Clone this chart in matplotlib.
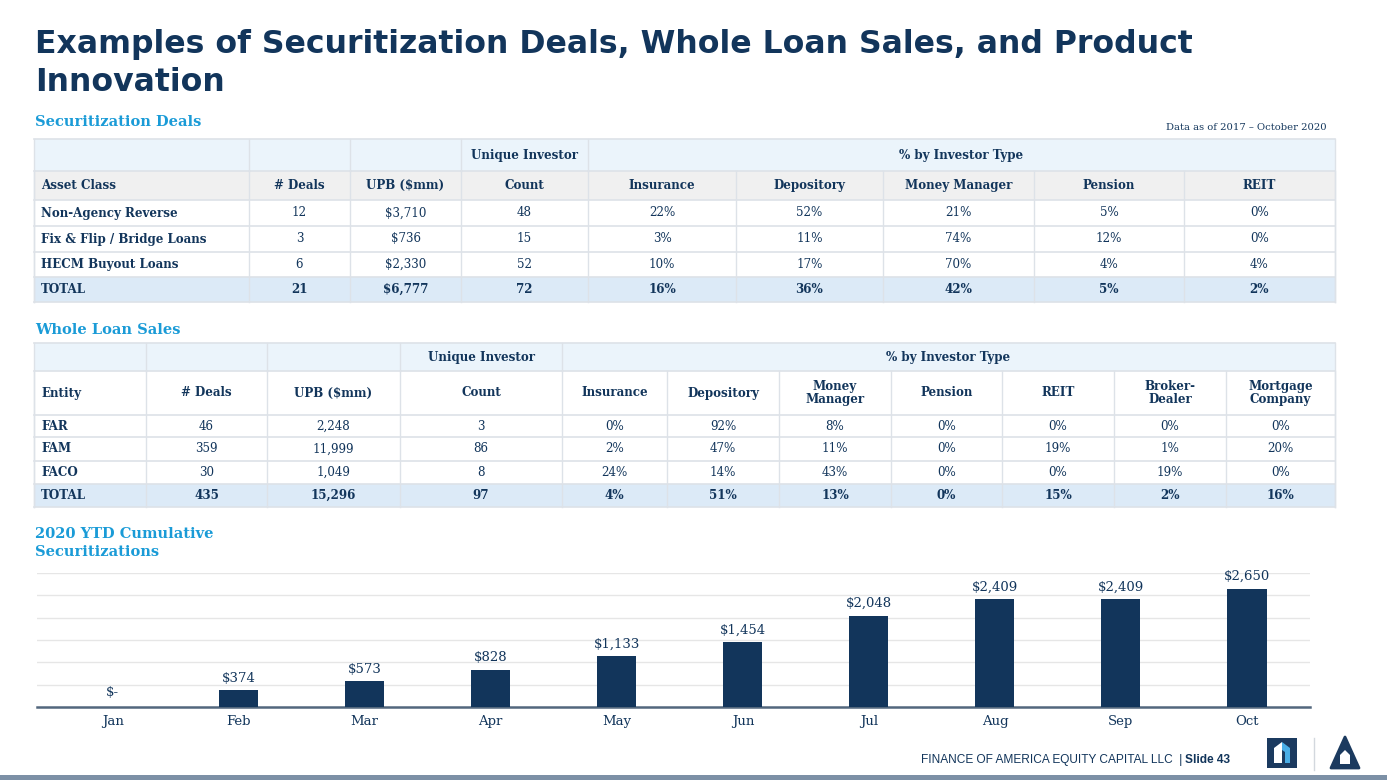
import matplotlib.pyplot as plt
from matplotlib.patches import Rectangle, Polygon

# ---- data ----
sec_classes = ["Non-Agency Reverse", "Fix & Flip / Bridge Loans", "HECM Buyout Loans", "TOTAL"]
sec_deals = [12, 3, 6, 21]
sec_upb = [3710, 736, 2330, 6777]
sec_count = [48, 15, 52, 72]
sec_types = ["Insurance", "Depository", "Money Manager", "Pension", "REIT"]
sec_insurance = [22, 3, 10, 16]
sec_depository = [52, 11, 17, 36]
sec_money_mgr = [21, 74, 70, 42]
sec_pension = [5, 12, 4, 5]
sec_reit = [0, 0, 4, 2]

wl_entities = ["FAR", "FAM", "FACO", "TOTAL"]
wl_deals = [46, 359, 30, 435]
wl_upb = [2248, 11999, 1049, 15296]
wl_count = [3, 86, 8, 97]
wl_types = ["Insurance", "Depository", "Money\nManager", "Pension", "REIT", "Broker-\nDealer", "Mortgage\nCompany"]
wl_insurance = [0, 2, 24, 4]
wl_depository = [92, 47, 14, 51]
wl_money_mgr = [8, 11, 43, 13]
wl_pension = [0, 0, 0, 0]
wl_reit = [0, 19, 0, 15]
wl_broker = [0, 1, 19, 2]
wl_mortgage = [0, 20, 0, 16]

months = ["Jan", "Feb", "Mar", "Apr", "May", "Jun", "Jul", "Aug", "Sep", "Oct"]
cum_sec = [0, 374, 573, 828, 1133, 1454, 2048, 2409, 2409, 2650]

# ---- styles ----
NAVY = "#12355b"
CYAN = "#1a9bd7"
HDR_BLUE = "#ebf4fb"
HDR_GRAY = "#f0f0f0"
TOT_BLUE = "#dceaf7"
LINE = "#dde2e8"
SERIF = "DejaVu Serif"
FS = 8.6

fig = plt.figure(figsize=(13.87, 7.80), dpi=100)
ax = fig.add_axes([0, 0, 1, 1])
ax.set_xlim(0, 1387)
ax.set_ylim(780, 0)
ax.axis("off")

# title
ax.text(35, 53, "Examples of Securitization Deals, Whole Loan Sales, and Product",
        fontsize=22.7, fontweight="bold", color=NAVY, family="DejaVu Sans", va="baseline")
ax.text(35, 91, "Innovation", fontsize=22.7, fontweight="bold", color=NAVY,
        family="DejaVu Sans", va="baseline")

ax.text(35, 122, "Securitization Deals", fontsize=10.5, fontweight="bold", color=CYAN,
        family=SERIF, va="center")
ax.text(1327, 128, "Data as of 2017 \u2013 October 2020", fontsize=7.2, color=NAVY,
        family=SERIF, va="center", ha="right")
ax.text(35, 330, "Whole Loan Sales", fontsize=10.5, fontweight="bold", color=CYAN,
        family=SERIF, va="center")
ax.text(35, 534, "2020 YTD Cumulative", fontsize=10.5, fontweight="bold", color=CYAN,
        family=SERIF, va="center")
ax.text(35, 552, "Securitizations", fontsize=10.5, fontweight="bold", color=CYAN,
        family=SERIF, va="center")


def pct(v):
    return f"{v}%"


def draw_table(cols, rows, top_hdr, hdr2_color, header, body):
    # top header row: first cells empty, "Unique Investor", merged "% by Investor Type"
    y0, y1 = rows[0], rows[1]
    ax.add_patch(Rectangle((cols[0], y0), cols[-1] - cols[0], y1 - y0, fc=HDR_BLUE, ec="none"))
    for x in cols[1:5]:
        ax.plot([x, x], [y0, y1], color=LINE, lw=1)
    ax.text((cols[3] + cols[4]) / 2, (y0 + y1) / 2, top_hdr[0], ha="center", va="center",
            fontsize=FS, fontweight="bold", color=NAVY, family=SERIF)
    ax.text((cols[4] + cols[-1]) / 2, (y0 + y1) / 2, top_hdr[1], ha="center", va="center",
            fontsize=FS, fontweight="bold", color=NAVY, family=SERIF)
    # second header row
    y0, y1 = rows[1], rows[2]
    ax.add_patch(Rectangle((cols[0], y0), cols[-1] - cols[0], y1 - y0, fc=hdr2_color, ec="none"))
    for j, h in enumerate(header):
        cx = cols[0] + 7 if j == 0 else (cols[j] + cols[j + 1]) / 2
        ax.text(cx, (y0 + y1) / 2, h, ha="left" if j == 0 else "center", va="center",
                fontsize=FS, fontweight="bold", color=NAVY, family=SERIF, linespacing=1.05)
    # body
    for i, row in enumerate(body):
        y0, y1 = rows[i + 2], rows[i + 3]
        total = i == len(body) - 1
        if total:
            ax.add_patch(Rectangle((cols[0], y0), cols[-1] - cols[0], y1 - y0, fc=TOT_BLUE, ec="none"))
        for j, v in enumerate(row):
            cx = cols[0] + 7 if j == 0 else (cols[j] + cols[j + 1]) / 2
            bold = total or j == 0
            ax.text(cx, (y0 + y1) / 2, v, ha="left" if j == 0 else "center", va="center",
                    fontsize=FS, fontweight="bold" if bold else "normal", color=NAVY, family=SERIF)
    # grid lines
    for y in rows:
        ax.plot([cols[0], cols[-1]], [y, y], color=LINE, lw=1.2)
    for x in cols:
        ax.plot([x, x], [rows[1], rows[-1]], color=LINE, lw=1)
    for x in (cols[0], cols[-1]):
        ax.plot([x, x], [rows[0], rows[-1]], color=LINE, lw=1)


sec_body = []
for i in range(len(sec_classes)):
    sec_body.append([sec_classes[i], str(sec_deals[i]), f"${sec_upb[i]:,}", str(sec_count[i]),
                     pct(sec_insurance[i]), pct(sec_depository[i]), pct(sec_money_mgr[i]),
                     pct(sec_pension[i]), pct(sec_reit[i])])
draw_table([34, 249, 350, 461, 588, 736, 883, 1034, 1184, 1335],
           [139, 171, 200, 226, 252, 277, 302],
           ["Unique Investor", "% by Investor Type"], HDR_GRAY,
           ["Asset Class", "# Deals", "UPB ($mm)", "Count"] + sec_types, sec_body)

wl_body = []
for i in range(len(wl_entities)):
    wl_body.append([wl_entities[i], str(wl_deals[i]), f"{wl_upb[i]:,}", str(wl_count[i]),
                    pct(wl_insurance[i]), pct(wl_depository[i]), pct(wl_money_mgr[i]),
                    pct(wl_pension[i]), pct(wl_reit[i]), pct(wl_broker[i]), pct(wl_mortgage[i])])
draw_table([34, 146, 267, 400, 562, 667, 779, 891, 1002, 1114, 1226, 1335],
           [343, 371, 415, 437, 461, 484, 507],
           ["Unique Investor", "% by Investor Type"], "white",
           ["Entity", "# Deals", "UPB ($mm)", "Count"] + wl_types, wl_body)

# ---- bar chart ----
cax = fig.add_axes([37 / 1387, (780 - 707) / 780, (1310 - 37) / 1387, (707 - 573) / 780])
x = list(range(len(months)))
cax.bar(x, cum_sec, width=0.31, color=NAVY, zorder=3)
cax.set_xlim(-0.6, 9.5)
cax.set_ylim(0, 3000)
cax.set_yticks(range(500, 3001, 500))
cax.yaxis.grid(True, color="#e6e6e6", lw=1)
cax.set_axisbelow(True)
cax.tick_params(axis="y", left=False, labelleft=False)
cax.tick_params(axis="x", length=0, pad=6)
cax.set_xticks(x)
cax.set_xticklabels(months, family=SERIF, fontsize=9.5, color=NAVY)
for s in ("top", "left", "right"):
    cax.spines[s].set_visible(False)
cax.spines["bottom"].set_color("#52677d")
cax.spines["bottom"].set_linewidth(1.8)
cax.patch.set_alpha(0)
for xi, v in zip(x, cum_sec):
    lbl = "$-" if v == 0 else f"${v:,}"
    cax.annotate(lbl, (xi, v), xytext=(0, 4 if v else 6), textcoords="offset points",
                 ha="center", va="bottom", fontsize=9.5, color=NAVY, family=SERIF)

# ---- footer ----
t_bold = ax.text(1230, 760, "Slide 43", ha="right", va="center", fontsize=8.6,
                 fontweight="bold", color=NAVY, family="Liberation Sans")
fig.canvas.draw()
bb = t_bold.get_window_extent()
ax.text((bb.x0 - 3) / fig.bbox.width, 1 - 760 / 780, "FINANCE OF AMERICA EQUITY CAPITAL LLC  |",
        ha="right", va="center", fontsize=8.6, color=NAVY, family="Liberation Sans",
        transform=fig.transFigure)

# logos
ax.add_patch(Rectangle((1267, 738), 30, 30, fc="#1b3a5f", ec="none"))
ax.add_patch(Polygon([(1274, 763), (1274, 748), (1282, 742), (1282, 763)], fc="white", ec="none"))
ax.add_patch(Polygon([(1282, 742), (1290, 748), (1290, 763), (1285, 763), (1285, 752), (1282, 750)],
                     fc="#4aaee6", ec="none"))
ax.plot([1314, 1314], [738, 770], color="#d3d8de", lw=1)
ax.add_patch(Polygon([(1345, 737), (1331, 768), (1359, 768)], fc="#1b3a5f", ec="#1b3a5f",
                     lw=2, joinstyle="round"))
ax.add_patch(Polygon([(1340, 764), (1340, 755), (1345, 750), (1350, 755), (1350, 764)],
                     fc="white", ec="none"))
ax.add_patch(Rectangle((0, 775), 1387, 5, fc="#7c90a6", ec="none"))

fig.savefig("out.png", dpi=100)
